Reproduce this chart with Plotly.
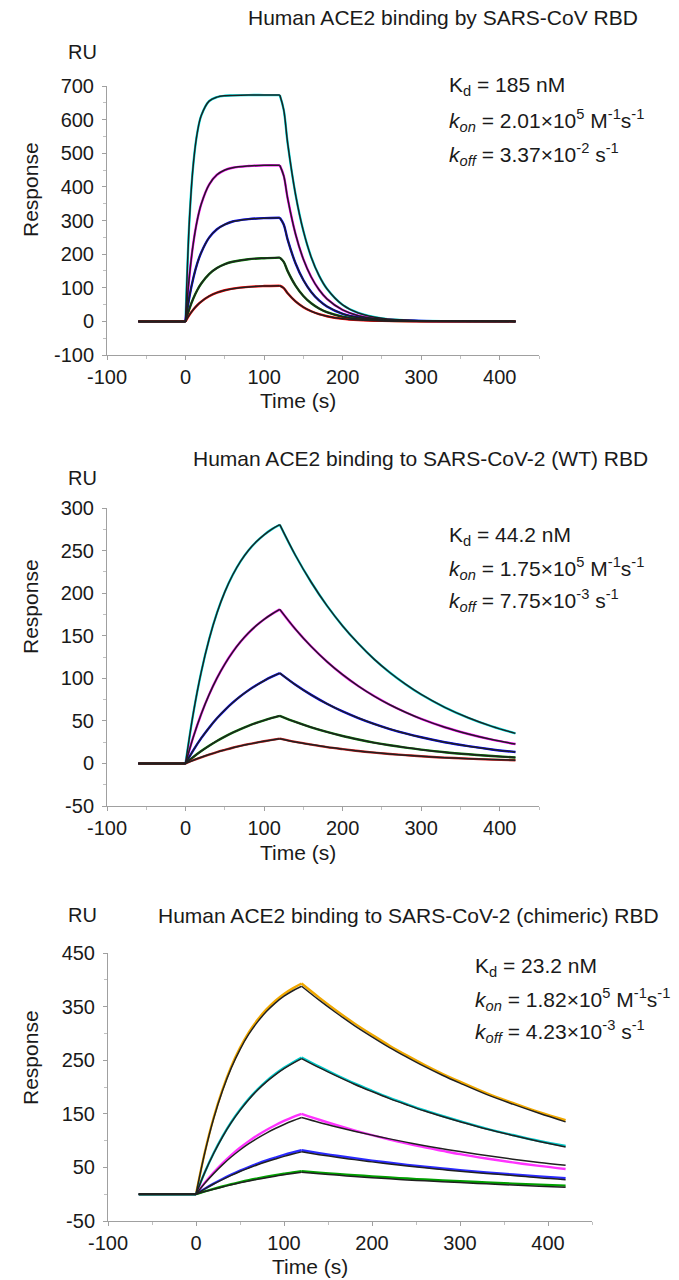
import plotly.graph_objects as go

W, H = 679, 1280
FONT = "Liberation Sans, Arial, sans-serif"

# ---------------- data ----------------
# Panel 1: SARS-CoV RBD
P1_BASE_T = [-60, 0]
P1_ASSOC_T = [0, 5, 10, 15, 20, 30, 40, 50, 60, 80, 100, 120]
P1_DISS_T = [120, 125, 130, 140, 150, 160, 170, 180, 200, 220, 250, 300, 350, 420]
P1_COLORS = ["#00e5e5", "#ff00ff", "#0000ff", "#007a00", "#ff0000"]
P1_ASSOC = [
    [0, 304, 470, 562, 612, 655, 667, 671, 672, 673, 673, 673],
    [0, 137, 234, 302, 349, 407, 436, 450, 457, 462, 464, 464],
    [0, 74, 130, 173, 205, 249, 274, 288, 297, 304, 307, 308],
    [0, 38.2, 68.8, 93.3, 112.7, 140.8, 158.7, 170.1, 177.3, 184.8, 187.9, 189.6],
    [0, 19.4, 35.3, 48.3, 58.9, 74.8, 85.4, 92.5, 97.3, 102.6, 105.0, 106.1],
]
P1_DISS = [
    [673, 629, 530, 378, 269, 191, 136, 97, 49, 25, 9, 2, 0.3, 0],
    [464, 433, 366, 260, 185, 132, 94, 67, 34, 17, 6.2, 1.1, 0.2, 0],
    [308, 288, 243, 173, 123, 87.5, 62.2, 44.4, 22.5, 11.4, 4.1, 0.7, 0.1, 0],
    [189.6, 177.1, 149.4, 106.4, 75.6, 53.8, 38.3, 27.3, 13.8, 7.0, 2.5, 0.5, 0.1, 0],
    [106.1, 99.1, 83.6, 59.5, 42.3, 30.1, 21.4, 15.3, 7.7, 3.9, 1.4, 0.3, 0, 0],
]

# Panel 2: SARS-CoV-2 (WT) RBD
P2_BASE_T = [-60, 0]
P2_ASSOC_T = [0, 10, 20, 30, 40, 50, 60, 70, 80, 90, 100, 110, 120]
P2_DISS_T = [120, 140, 160, 180, 200, 220, 240, 260, 280, 300, 330, 360, 390, 420]
P2_COLORS = ["#00e5e5", "#ff00ff", "#0000ff", "#007a00", "#d02020"]
P2_ASSOC = [
    [0, 59.6, 107.5, 145.9, 176.7, 201.5, 221.3, 237.3, 250.1, 260.3, 268.5, 275.2, 280.4],
    [0, 31.4, 58.1, 80.8, 100.2, 116.7, 130.8, 142.8, 153.1, 161.8, 169.2, 175.5, 180.9],
    [0, 15.7, 29.7, 42.0, 53.0, 62.7, 71.3, 79.0, 85.8, 91.8, 97.1, 101.9, 106.1],
    [0, 7.6, 14.5, 20.7, 26.4, 31.5, 36.1, 40.3, 44.1, 47.5, 50.6, 53.4, 55.9],
    [0, 3.8, 7.2, 10.4, 13.3, 15.9, 18.4, 20.6, 22.6, 24.4, 26.1, 27.6, 29.1],
]
P2_DISS = [
    [280.4, 244.2, 212.8, 185.3, 161.5, 140.8, 122.5, 106.8, 93.1, 81.0, 65.9, 53.6, 43.5, 35.3],
    [180.9, 157.6, 137.3, 119.6, 104.2, 90.8, 79.1, 68.9, 60.1, 52.3, 42.5, 34.6, 28.0, 22.8],
    [106.1, 92.4, 80.5, 70.1, 61.1, 53.3, 46.4, 40.4, 35.2, 30.7, 24.9, 20.3, 16.4, 13.4],
    [55.9, 48.7, 42.4, 37.0, 32.2, 28.1, 24.4, 21.3, 18.6, 16.2, 13.1, 10.7, 8.7, 7.0],
    [29.1, 25.3, 22.1, 19.2, 16.8, 14.6, 12.7, 11.1, 9.7, 8.4, 6.8, 5.6, 4.5, 3.7],
]

# Panel 3: SARS-CoV-2 (chimeric) RBD  (measured data and fitted curves)
P3_BASE_T = [-65, 0]
P3_ASSOC_T = [0, 10, 20, 30, 40, 50, 60, 70, 80, 90, 100, 110, 120]
P3_DISS_T = [120, 140, 160, 180, 200, 220, 240, 260, 280, 300, 330, 360, 390, 420]
P3_COLORS = ["#f0a800", "#00c8c8", "#ff33ff", "#2a2aff", "#00a000"]
P3_DATA_ASSOC = [
    [0, 78.2, 142.6, 194.8, 238.0, 273.0, 302.0, 325.3, 344.7, 360.7, 373.7, 384.0, 393.0],
    [0, 41.0, 76.4, 107.4, 134.3, 157.4, 177.8, 195.6, 211.0, 224.1, 235.7, 245.7, 255.0],
    [0, 21.3, 40.4, 57.6, 73.0, 86.7, 99.0, 110.1, 119.9, 128.7, 136.7, 143.9, 150.0],
    [0, 10.2, 19.7, 28.3, 36.4, 43.9, 50.7, 57.1, 62.9, 68.2, 73.3, 77.8, 82.0],
    [0, 5.2, 10.0, 14.4, 18.5, 22.4, 26.1, 29.4, 32.6, 35.5, 38.2, 40.8, 43.0],
]
P3_DATA_DISS = [
    [393, 366.7, 341.9, 318.7, 297.5, 277.1, 258.6, 241.0, 224.8, 209.9, 188.6, 170.2, 152.9, 138],
    [255, 237.9, 221.9, 206.8, 193.0, 179.8, 167.8, 156.3, 145.9, 136.2, 122.4, 110.4, 99.2, 90],
    [150, 138.9, 128.6, 119.0, 110.1, 101.9, 94.4, 87.3, 80.9, 74.7, 66.6, 59.3, 52.8, 47],
    [82, 76.7, 71.7, 67.0, 62.7, 58.6, 54.8, 51.3, 48.0, 44.9, 40.6, 36.8, 33.2, 30],
    [43, 40.3, 37.8, 35.5, 33.3, 31.2, 29.2, 27.4, 25.7, 24.1, 21.9, 19.8, 17.8, 16],
]
P3_FIT_ASSOC = [
    [0, 77.3, 140.9, 192.6, 235.3, 269.9, 298.5, 321.5, 340.7, 356.5, 369.4, 379.6, 388.0],
    [0, 40.7, 75.9, 106.7, 133.4, 156.4, 176.6, 194.3, 209.6, 222.7, 234.2, 244.1, 253.0],
    [0, 20.3, 38.4, 54.8, 69.4, 82.5, 94.2, 104.7, 114.1, 122.5, 130.1, 136.9, 143.0],
    [0, 9.9, 19.0, 27.3, 35.1, 42.3, 48.8, 55.0, 60.6, 65.7, 70.6, 75.0, 79.0],
    [0, 4.9, 9.4, 13.6, 17.6, 21.3, 24.7, 27.9, 30.9, 33.7, 36.3, 38.7, 41.0],
]
P3_FIT_DISS = [
    [388, 362.0, 337.6, 314.7, 293.7, 273.6, 255.3, 237.9, 221.9, 207.2, 186.2, 168.0, 151.0, 135],
    [253, 236.0, 220.2, 205.2, 191.5, 178.4, 166.5, 155.1, 144.8, 135.2, 121.5, 109.6, 98.4, 88],
    [143, 133.9, 125.5, 117.6, 110.2, 103.2, 96.7, 90.6, 84.9, 79.6, 72.2, 65.4, 59.3, 54],
    [79, 73.8, 69.0, 64.5, 60.3, 56.3, 52.6, 49.2, 45.9, 42.9, 38.8, 35.1, 30.5, 27],
    [41, 38.2, 35.6, 33.1, 30.8, 28.7, 26.7, 24.9, 23.2, 21.6, 19.3, 17.0, 14.9, 13],
]

# tick values / labels
X_TICKS = [-100, 0, 100, 200, 300, 400]
P1_Y_TICKS = [-100, 0, 100, 200, 300, 400, 500, 600, 700]
P2_Y_TICKS = [-50, 0, 50, 100, 150, 200, 250, 300]
P3_Y_TICKS = [-50, 50, 150, 250, 350, 450]

TITLES = [
    "Human ACE2 binding by SARS-CoV RBD",
    "Human ACE2 binding to SARS-CoV-2 (WT) RBD",
    "Human ACE2 binding to SARS-CoV-2 (chimeric) RBD",
]
KINETICS = [
    ("185 nM", "2.01×10<sup>5</sup>", "3.37×10<sup>-2</sup>"),
    ("44.2 nM", "1.75×10<sup>5</sup>", "7.75×10<sup>-3</sup>"),
    ("23.2 nM", "1.82×10<sup>5</sup>", "4.23×10<sup>-3</sup>"),
]

# ---------------- figure ----------------
fig = go.Figure()
FIT_COLOR = "#202020"


def add_curve(xa, ya, base_t, at, av, dt, dv, color, width):
    common = dict(xaxis=xa, yaxis=ya, mode="lines", hoverinfo="skip", showlegend=False)
    fig.add_trace(go.Scatter(x=base_t, y=[av[0], av[0]],
                             line=dict(color=color, width=width), **common))
    fig.add_trace(go.Scatter(x=at, y=av,
                             line=dict(color=color, width=width, shape="spline", smoothing=1.0), **common))
    fig.add_trace(go.Scatter(x=dt, y=dv,
                             line=dict(color=color, width=width, shape="spline", smoothing=1.0), **common))


DATA_W, FIT_W = 2.4, 1.5
for i in range(len(P1_ASSOC)):
    add_curve("x", "y", P1_BASE_T, P1_ASSOC_T, P1_ASSOC[i], P1_DISS_T, P1_DISS[i], P1_COLORS[i], DATA_W)
for i in range(len(P1_ASSOC)):
    add_curve("x", "y", P1_BASE_T, P1_ASSOC_T, P1_ASSOC[i], P1_DISS_T, P1_DISS[i], FIT_COLOR, FIT_W)
for i in range(len(P2_ASSOC)):
    add_curve("x2", "y2", P2_BASE_T, P2_ASSOC_T, P2_ASSOC[i], P2_DISS_T, P2_DISS[i], P2_COLORS[i], DATA_W)
for i in range(len(P2_ASSOC)):
    add_curve("x2", "y2", P2_BASE_T, P2_ASSOC_T, P2_ASSOC[i], P2_DISS_T, P2_DISS[i], FIT_COLOR, FIT_W)
for i in range(len(P3_DATA_ASSOC)):
    add_curve("x3", "y3", P3_BASE_T, P3_ASSOC_T, P3_DATA_ASSOC[i], P3_DISS_T, P3_DATA_DISS[i], P3_COLORS[i], DATA_W)
for i in range(len(P3_FIT_ASSOC)):
    add_curve("x3", "y3", P3_BASE_T, P3_ASSOC_T, P3_FIT_ASSOC[i], P3_DISS_T, P3_FIT_DISS[i], FIT_COLOR, FIT_W)


def px(x):
    return x / W


def py(y):
    return 1 - y / H


AX_COLOR = "#a0a0a0"
TICKFONT = dict(family=FONT, size=20, color="#1a1a1a")


def xaxis(domain, anchor):
    return dict(domain=domain, anchor=anchor, range=[-100, 450], showline=True, linecolor=AX_COLOR,
                linewidth=1, ticks="outside", ticklen=4, tickcolor=AX_COLOR,
                tickmode="array", tickvals=X_TICKS, ticktext=[str(v) for v in X_TICKS],
                minor=dict(ticks="outside", ticklen=3, tick0=0, dtick=50, tickcolor="#c0c0c0"),
                tickfont=TICKFONT, showgrid=False, zeroline=False, fixedrange=True,
                automargin=False)


def yaxis(domain, anchor, rng, ticks, mtick0, mdtick):
    return dict(domain=domain, anchor=anchor, range=rng, showline=True, linecolor=AX_COLOR,
                linewidth=1, ticks="outside", ticklen=4, tickcolor=AX_COLOR,
                tickmode="array", tickvals=ticks, ticktext=[str(v) for v in ticks],
                minor=dict(ticks="outside", ticklen=3, tick0=mtick0, dtick=mdtick, tickcolor="#c0c0c0"),
                tickfont=TICKFONT, showgrid=False, zeroline=False, fixedrange=True,
                ticklabelstandoff=4, automargin=False)


fig.update_layout(
    width=W, height=H, margin=dict(l=0, r=0, t=0, b=0, autoexpand=False),
    paper_bgcolor="white", plot_bgcolor="white", showlegend=False,
    xaxis=xaxis([px(107), px(539)], "y"),
    yaxis=yaxis([py(355), py(86)], "x", [-100, 700], P1_Y_TICKS, 0, 50),
    xaxis2=xaxis([px(107), px(539)], "y2"),
    yaxis2=yaxis([py(806), py(508)], "x2", [-50, 300], P2_Y_TICKS, 0, 25),
    xaxis3=xaxis([px(108), px(592)], "y3"),
    yaxis3=yaxis([py(1221), py(953)], "x3", [-50, 450], P3_Y_TICKS, 0, 50),
)

ann = []


def text(x, y, s, size=20, xanchor="center", angle=0):
    ann.append(dict(x=px(x), y=py(y), xref="paper", yref="paper", text=s, showarrow=False,
                    xanchor=xanchor, yanchor="middle", textangle=angle,
                    font=dict(family=FONT, size=size, color="#1a1a1a")))


title_pos = [(443, 17), (420, 458), (408, 915)]
ru_pos = [(82, 52), (82, 478), (82, 915)]
resp_pos = [(30, 190), (30, 607), (30, 1058)]
time_pos = [(298, 400), (298, 852), (310, 1266)]
for i in range(3):
    text(*title_pos[i], TITLES[i], size=21)
    text(*ru_pos[i], "RU", size=20)
    text(*resp_pos[i], "Response", size=21, angle=-90)
    text(*time_pos[i], "Time (s)", size=21)

kin_x = [447, 447, 473]
kin_y = [(86, 121, 154), (536, 568, 600), (967, 999, 1031)]
for i in range(3):
    kd, kon, koff = KINETICS[i]
    text(kin_x[i], kin_y[i][0], "K<sub>d</sub> = " + kd, size=21, xanchor="left")
    text(kin_x[i], kin_y[i][1], "<i>k</i><sub><i>on</i></sub> = " + kon + " M<sup>-1</sup>s<sup>-1</sup>",
         size=21, xanchor="left")
    text(kin_x[i], kin_y[i][2], "<i>k</i><sub><i>off</i></sub> = " + koff + " s<sup>-1</sup>",
         size=21, xanchor="left")

fig.update_layout(annotations=ann)
fig.write_html("out.html", config={"displayModeBar": False, "staticPlot": True},
               post_script="document.body.style.margin='0';")
